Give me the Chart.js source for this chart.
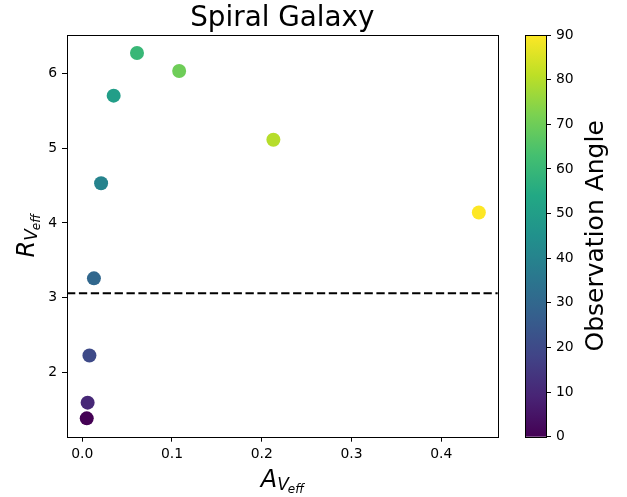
<!DOCTYPE html>
<html>
<head>
<meta charset="utf-8">
<script src="https://cdn.jsdelivr.net/npm/chart.js@4/dist/chart.umd.min.js"></script>
<style>
  html, body { margin: 0; padding: 0; background: #fff; }
  #wrap { position: relative; width: 627px; height: 497px; }
  #wrap canvas { position: absolute; left: 0; top: 0; }
</style>
</head>
<body>
<div id="wrap">
  <canvas id="mainChart" width="627" height="497"></canvas>
  <canvas id="cbarChart" width="627" height="497"></canvas>
</div>
<script>
// data
const aVeff  = [0.005, 0.006, 0.008, 0.013, 0.021, 0.035, 0.061, 0.108, 0.213, 0.442];
const rVeff  = [1.39, 1.60, 2.23, 3.26, 4.53, 5.70, 6.27, 6.03, 5.11, 4.14];
const angles = [0, 10, 20, 30, 40, 50, 60, 70, 80, 90];
const refRv  = 3.06;

const xTicks    = [0, 0.1, 0.2, 0.3, 0.4];
const yTicks    = [2, 3, 4, 5, 6];
const cbarTicks = [0, 10, 20, 30, 40, 50, 60, 70, 80, 90];

const chartTitle = "Spiral Galaxy";
const cbarLabel  = "Observation Angle";

// viridis stops
const viridis = ["#440154", "#482475", "#414487", "#355f8d", "#2a788e", "#21918c",
                 "#22a884", "#44bf70", "#7ad151", "#bddf26", "#fde725"];

function hexToRgb(h) {
  return [parseInt(h.slice(1, 3), 16), parseInt(h.slice(3, 5), 16), parseInt(h.slice(5, 7), 16)];
}

function viridisColor(t) {
  t = Math.max(0, Math.min(1, t));
  const pos = t * (viridis.length - 1);
  const i = Math.min(Math.floor(pos), viridis.length - 2);
  const f = pos - i;
  const a = hexToRgb(viridis[i]), b = hexToRgb(viridis[i + 1]);
  const c = a.map((v, k) => Math.round(v + (b[k] - v) * f));
  return `rgb(${c[0]},${c[1]},${c[2]})`;
}

Chart.defaults.font.family = "'DejaVu Sans', sans-serif";
Chart.defaults.font.size = 13.9;
Chart.defaults.color = "#000";

// draws e.g. R_{V_{eff}} in italic like matplotlib mathtext
function drawMathLabel(ctx, main, sub, subsub, cx, baseline, rotate) {
  const s0 = 24, s1 = 17, s2 = 12;
  ctx.save();
  ctx.fillStyle = "#000";
  ctx.textBaseline = "alphabetic";
  ctx.font = `italic ${s0}px 'DejaVu Sans'`;
  const w0 = ctx.measureText(main).width;
  ctx.font = `italic ${s1}px 'DejaVu Sans'`;
  const w1 = ctx.measureText(sub).width;
  ctx.font = `italic ${s2}px 'DejaVu Sans'`;
  const w2 = ctx.measureText(subsub).width;
  const total = w0 + w1 + w2 - 1;
  if (rotate) {
    ctx.translate(baseline, cx);
    ctx.rotate(-Math.PI / 2);
  } else {
    ctx.translate(cx, baseline);
  }
  let x = -total / 2;
  ctx.font = `italic ${s0}px 'DejaVu Sans'`;
  ctx.fillText(main, x, 0);
  x += w0;
  ctx.font = `italic ${s1}px 'DejaVu Sans'`;
  ctx.fillText(sub, x, 3.5);
  x += w1 - 1;
  ctx.font = `italic ${s2}px 'DejaVu Sans'`;
  ctx.fillText(subsub, x, 6);
  ctx.restore();
}

const mainDecor = {
  id: "mainDecor",
  beforeDatasetsDraw(chart) {
    const { ctx, chartArea, scales } = chart;
    const y = scales.y.getPixelForValue(refRv);
    ctx.save();
    ctx.strokeStyle = "#000";
    ctx.lineWidth = 2;
    ctx.setLineDash([8.3, 3.6]);
    ctx.beginPath();
    ctx.moveTo(chartArea.left, y);
    ctx.lineTo(chartArea.right, y);
    ctx.stroke();
    ctx.restore();
  },
  afterDraw(chart) {
    const { ctx, chartArea } = chart;
    ctx.save();
    ctx.strokeStyle = "#000";
    ctx.lineWidth = 1;
    ctx.strokeRect(Math.round(chartArea.left) + 0.5, Math.round(chartArea.top) + 0.5,
      Math.round(chartArea.right - chartArea.left), Math.round(chartArea.bottom - chartArea.top));
    // title
    ctx.fillStyle = "#000";
    ctx.font = "27.8px 'DejaVu Sans'";
    ctx.textAlign = "center";
    ctx.textBaseline = "alphabetic";
    ctx.fillText(chartTitle, (chartArea.left + chartArea.right) / 2, 25.5);
    ctx.restore();
    const midX = (chartArea.left + chartArea.right) / 2;
    const midY = (chartArea.top + chartArea.bottom) / 2;
    drawMathLabel(ctx, "A", "V", "eff", midX, 486.7, false);
    drawMathLabel(ctx, "R", "V", "eff", midY, 33.5, true);
  }
};

new Chart(document.getElementById("mainChart"), {
  type: "scatter",
  data: {
    datasets: [{
      data: aVeff.map((x, i) => ({ x: x, y: rVeff[i] })),
      pointBackgroundColor: angles.map(a => viridisColor(a / 90)),
      pointBorderWidth: 0,
      pointRadius: 7,
      pointHoverRadius: 7
    }]
  },
  options: {
    responsive: false,
    animation: false,
    devicePixelRatio: 1,
    layout: { padding: { left: 0, right: 129.3, top: 35, bottom: 0 } },
    plugins: { legend: { display: false }, tooltip: { enabled: false } },
    scales: {
      x: {
        type: "linear",
        min: -0.017,
        max: 0.463,
        afterBuildTicks: s => { s.ticks = xTicks.map(v => ({ value: v })); },
        afterFit: s => { s.height = 60.3; },
        border: { display: false },
        grid: { drawOnChartArea: false, drawTicks: true, tickLength: 5, tickColor: "#000", tickWidth: 1 },
        ticks: { padding: 4, maxRotation: 0, autoSkip: false, callback: v => v.toFixed(1) }
      },
      y: {
        type: "linear",
        min: 1.145,
        max: 6.51,
        afterBuildTicks: s => { s.ticks = yTicks.map(v => ({ value: v })); },
        afterFit: s => { s.width = 67; },
        border: { display: false },
        grid: { drawOnChartArea: false, drawTicks: true, tickLength: 5, tickColor: "#000", tickWidth: 1 },
        ticks: { padding: 5, autoSkip: false, callback: v => String(v) }
      }
    }
  },
  plugins: [mainDecor]
});

// colorbar
const cbarDecor = {
  id: "cbarDecor",
  beforeDraw(chart) {
    const { ctx, chartArea } = chart;
    const g = ctx.createLinearGradient(0, chartArea.bottom, 0, chartArea.top);
    viridis.forEach((c, i) => g.addColorStop(i / (viridis.length - 1), c));
    ctx.save();
    ctx.fillStyle = g;
    ctx.fillRect(chartArea.left, chartArea.top, chartArea.right - chartArea.left, chartArea.bottom - chartArea.top);
    ctx.restore();
  },
  afterDraw(chart) {
    const { ctx, chartArea } = chart;
    ctx.save();
    ctx.strokeStyle = "#000";
    ctx.lineWidth = 1;
    ctx.strokeRect(Math.round(chartArea.left) + 0.5, Math.round(chartArea.top) + 0.5,
      Math.round(chartArea.right - chartArea.left), Math.round(chartArea.bottom - chartArea.top));
    ctx.fillStyle = "#000";
    ctx.font = "25px 'DejaVu Sans'";
    ctx.textAlign = "center";
    ctx.textBaseline = "alphabetic";
    ctx.translate(603, (chartArea.top + chartArea.bottom) / 2);
    ctx.rotate(-Math.PI / 2);
    ctx.fillText(cbarLabel, 0, 0);
    ctx.restore();
  }
};

new Chart(document.getElementById("cbarChart"), {
  type: "scatter",
  data: { datasets: [] },
  options: {
    responsive: false,
    animation: false,
    devicePixelRatio: 1,
    layout: { padding: { left: 525, right: 21, top: 35, bottom: 60.3 } },
    plugins: { legend: { display: false }, tooltip: { enabled: false } },
    events: [],
    scales: {
      x: { type: "linear", display: false, min: 0, max: 1 },
      y: {
        type: "linear",
        position: "right",
        min: 0,
        max: 90,
        afterBuildTicks: s => { s.ticks = cbarTicks.map(v => ({ value: v })); },
        afterFit: s => { s.width = 60; },
        border: { display: false },
        grid: { drawOnChartArea: false, drawTicks: true, tickLength: 5, tickColor: "#000", tickWidth: 1 },
        ticks: { padding: 5, autoSkip: false, callback: v => String(v) }
      }
    }
  },
  plugins: [cbarDecor]
});
</script>
</body>
</html>
